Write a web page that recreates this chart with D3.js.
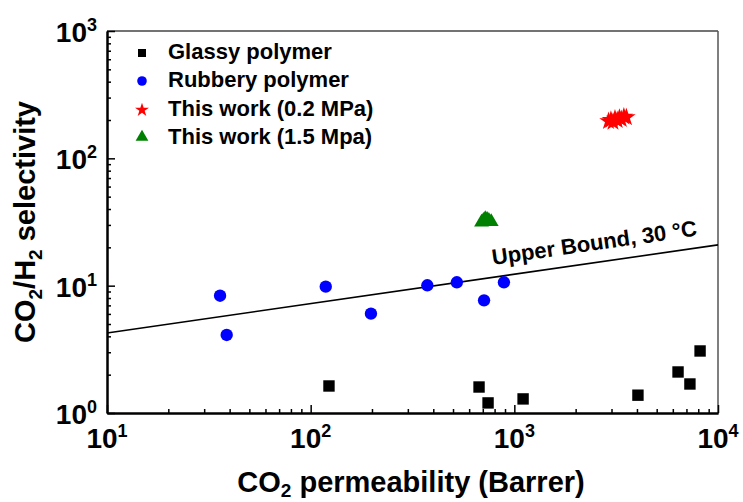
<!DOCTYPE html>
<html>
<head>
<meta charset="utf-8">
<script src="https://cdn.jsdelivr.net/npm/d3@7/dist/d3.min.js"></script>
<style>
  html, body { margin: 0; padding: 0; background: #fff; }
  svg { display: block; font-family: "Liberation Sans", Arial, sans-serif; }
</style>
</head>
<body>
<svg id="chart" width="743" height="502"></svg>
<script>
// CO2 permeability (Barrer) vs CO2/H2 selectivity
const glassyX = [123, 671, 743, 1104, 4045, 6365, 7280, 8166];
const glassyY = [1.63, 1.60, 1.20, 1.29, 1.38, 2.10, 1.69, 3.07];

const rubberyX = [35.9, 38.7, 118.6, 197.7, 374, 522, 710, 889];
const rubberyY = [8.34, 4.10, 9.82, 6.03, 10.07, 10.63, 7.67, 10.63];

const work02X = [2900, 2980, 3050, 3120, 3200, 3280, 3350, 3450, 3550];
const work02Y = [196, 200, 193, 205, 199, 208, 203, 212, 210];

const work15X = [690, 705, 720, 735, 750, 770];
const work15Y = [31.5, 32.5, 33.5, 33.0, 32.5, 31.8];

const boundX = [10, 10000];
const boundY = [4.25, 20.9];
const boundLabel = "Upper Bound, 30 °C";

const xTickExp = [1, 2, 3, 4];
const yTickExp = [0, 1, 2, 3];

const legendLabels = ["Glassy polymer", "Rubbery polymer", "This work (0.2 MPa)", "This work (1.5 Mpa)"];

const svg = d3.select("#chart");
const plotLeft = 107, plotRight = 718, plotTop = 31, plotBottom = 413;

const x = d3.scaleLog().domain([10, 1e4]).range([plotLeft, plotRight]);
const y = d3.scaleLog().domain([1, 1e3]).range([plotBottom, plotTop]);

const zip = (a, b) => a.map((v, i) => [v, b[i]]);

// frame: top and right edges
svg.append("line").attr("x1", plotLeft).attr("x2", plotRight).attr("y1", plotTop).attr("y2", plotTop)
  .attr("stroke", "#444").attr("stroke-width", 1.5);
svg.append("line").attr("x1", plotRight).attr("x2", plotRight).attr("y1", plotTop).attr("y2", plotBottom)
  .attr("stroke", "#555").attr("stroke-width", 1.5);

// minor + major ticks
function tickVals(lo, hi) {
  const out = [];
  for (let e = lo; e < hi; e++) for (let m = 1; m < 10; m++) out.push(m * Math.pow(10, e));
  out.push(Math.pow(10, hi));
  return out;
}
const xMajor = xTickExp.map(e => Math.pow(10, e));
const yMajor = yTickExp.map(e => Math.pow(10, e));
const xMinor = tickVals(1, 4).filter(v => !xMajor.includes(v));
const yMinor = tickVals(0, 3).filter(v => !yMajor.includes(v));

const xAxisG = svg.append("g").attr("transform", `translate(0,${plotBottom})`);
xAxisG.call(d3.axisBottom(x).tickValues(xMinor).tickSizeInner(-4).tickSizeOuter(0).tickFormat(""));
const xMajorG = svg.append("g").attr("transform", `translate(0,${plotBottom})`);
xMajorG.call(d3.axisBottom(x).tickValues(xMajor).tickSizeInner(-8).tickSizeOuter(0).tickFormat(""));

const yAxisG = svg.append("g").attr("transform", `translate(${plotLeft},0)`);
yAxisG.call(d3.axisLeft(y).tickValues(yMinor).tickSizeInner(-4).tickSizeOuter(0).tickFormat(""));
const yMajorG = svg.append("g").attr("transform", `translate(${plotLeft},0)`);
yMajorG.call(d3.axisLeft(y).tickValues(yMajor).tickSizeInner(-8).tickSizeOuter(0).tickFormat(""));

[xAxisG, xMajorG, yAxisG, yMajorG].forEach(g => {
  g.selectAll(".tick line").attr("stroke", "#000").attr("stroke-width", 1.5);
  g.select(".domain").attr("stroke", "#000").attr("stroke-width", 2);
});

// tick labels 10^n
function powerLabel(sel, e) {
  sel.append("tspan").text("10");
  sel.append("tspan").attr("dy", -11).attr("font-size", 18).text(e);
}
xTickExp.forEach(e => {
  const t = svg.append("text")
    .attr("x", x(Math.pow(10, e))).attr("y", 448)
    .attr("text-anchor", "middle").attr("font-size", 28).attr("font-weight", "bold");
  powerLabel(t, e);
});
yTickExp.forEach(e => {
  const t = svg.append("text")
    .attr("x", 97).attr("y", y(Math.pow(10, e)) + 11)
    .attr("text-anchor", "end").attr("font-size", 28).attr("font-weight", "bold");
  powerLabel(t, e);
});

// axis titles
const xt = svg.append("text").attr("x", 411).attr("y", 492)
  .attr("text-anchor", "middle").attr("font-size", 29).attr("font-weight", "bold");
xt.append("tspan").text("CO");
xt.append("tspan").attr("font-size", 19).attr("dy", 5).text("2");
xt.append("tspan").attr("dy", -5).text(" permeability (Barrer)");

const yt = svg.append("text")
  .attr("transform", "translate(35,222) rotate(-90)")
  .attr("text-anchor", "middle").attr("font-size", 29).attr("font-weight", "bold");
yt.append("tspan").text("CO");
yt.append("tspan").attr("font-size", 19).attr("dy", 7).text("2");
yt.append("tspan").attr("dy", -7).text("/H");
yt.append("tspan").attr("font-size", 19).attr("dy", 7).text("2");
yt.append("tspan").attr("dy", -7).text(" selectivity");

// upper bound line
const line = d3.line().x(d => x(d[0])).y(d => y(d[1]));
svg.append("path").datum(zip(boundX, boundY))
  .attr("d", line).attr("fill", "none").attr("stroke", "#000").attr("stroke-width", 1.6);

const angle = Math.atan2(y(boundY[1]) - y(boundY[0]), x(boundX[1]) - x(boundX[0])) * 180 / Math.PI;
svg.append("text")
  .attr("transform", `translate(493,265) rotate(${angle})`)
  .attr("font-size", 22).attr("font-weight", "bold").text(boundLabel);

// markers
const series = [
  { xs: glassyX, ys: glassyY, type: d3.symbolSquare, size: 130, color: "#000", lsize: 64 },
  { xs: rubberyX, ys: rubberyY, type: d3.symbolCircle, size: 120, color: "#0000ff", lsize: 72 },
  { xs: work02X, ys: work02Y, type: d3.symbolStar, size: 105, color: "#ff0000", lsize: 60 },
  { xs: work15X, ys: work15Y, type: d3.symbolTriangle, size: 95, color: "#008000", lsize: 70 }
];

series.forEach(s => {
  svg.append("g").selectAll("path").data(zip(s.xs, s.ys)).join("path")
    .attr("transform", d => `translate(${x(d[0])},${y(d[1])})`)
    .attr("d", d3.symbol().type(s.type).size(s.size))
    .attr("fill", s.color);
});

// legend
const legendRows = [53, 81, 110, 137];
const legendBase = [59, 87, 116, 144];
series.forEach((s, i) => {
  svg.append("path")
    .attr("transform", `translate(142,${legendRows[i]})`)
    .attr("d", d3.symbol().type(s.type).size(s.lsize))
    .attr("fill", s.color);
  svg.append("text").attr("x", 168).attr("y", legendBase[i])
    .attr("font-size", 22).attr("font-weight", "bold").text(legendLabels[i]);
});
</script>
</body>
</html>
